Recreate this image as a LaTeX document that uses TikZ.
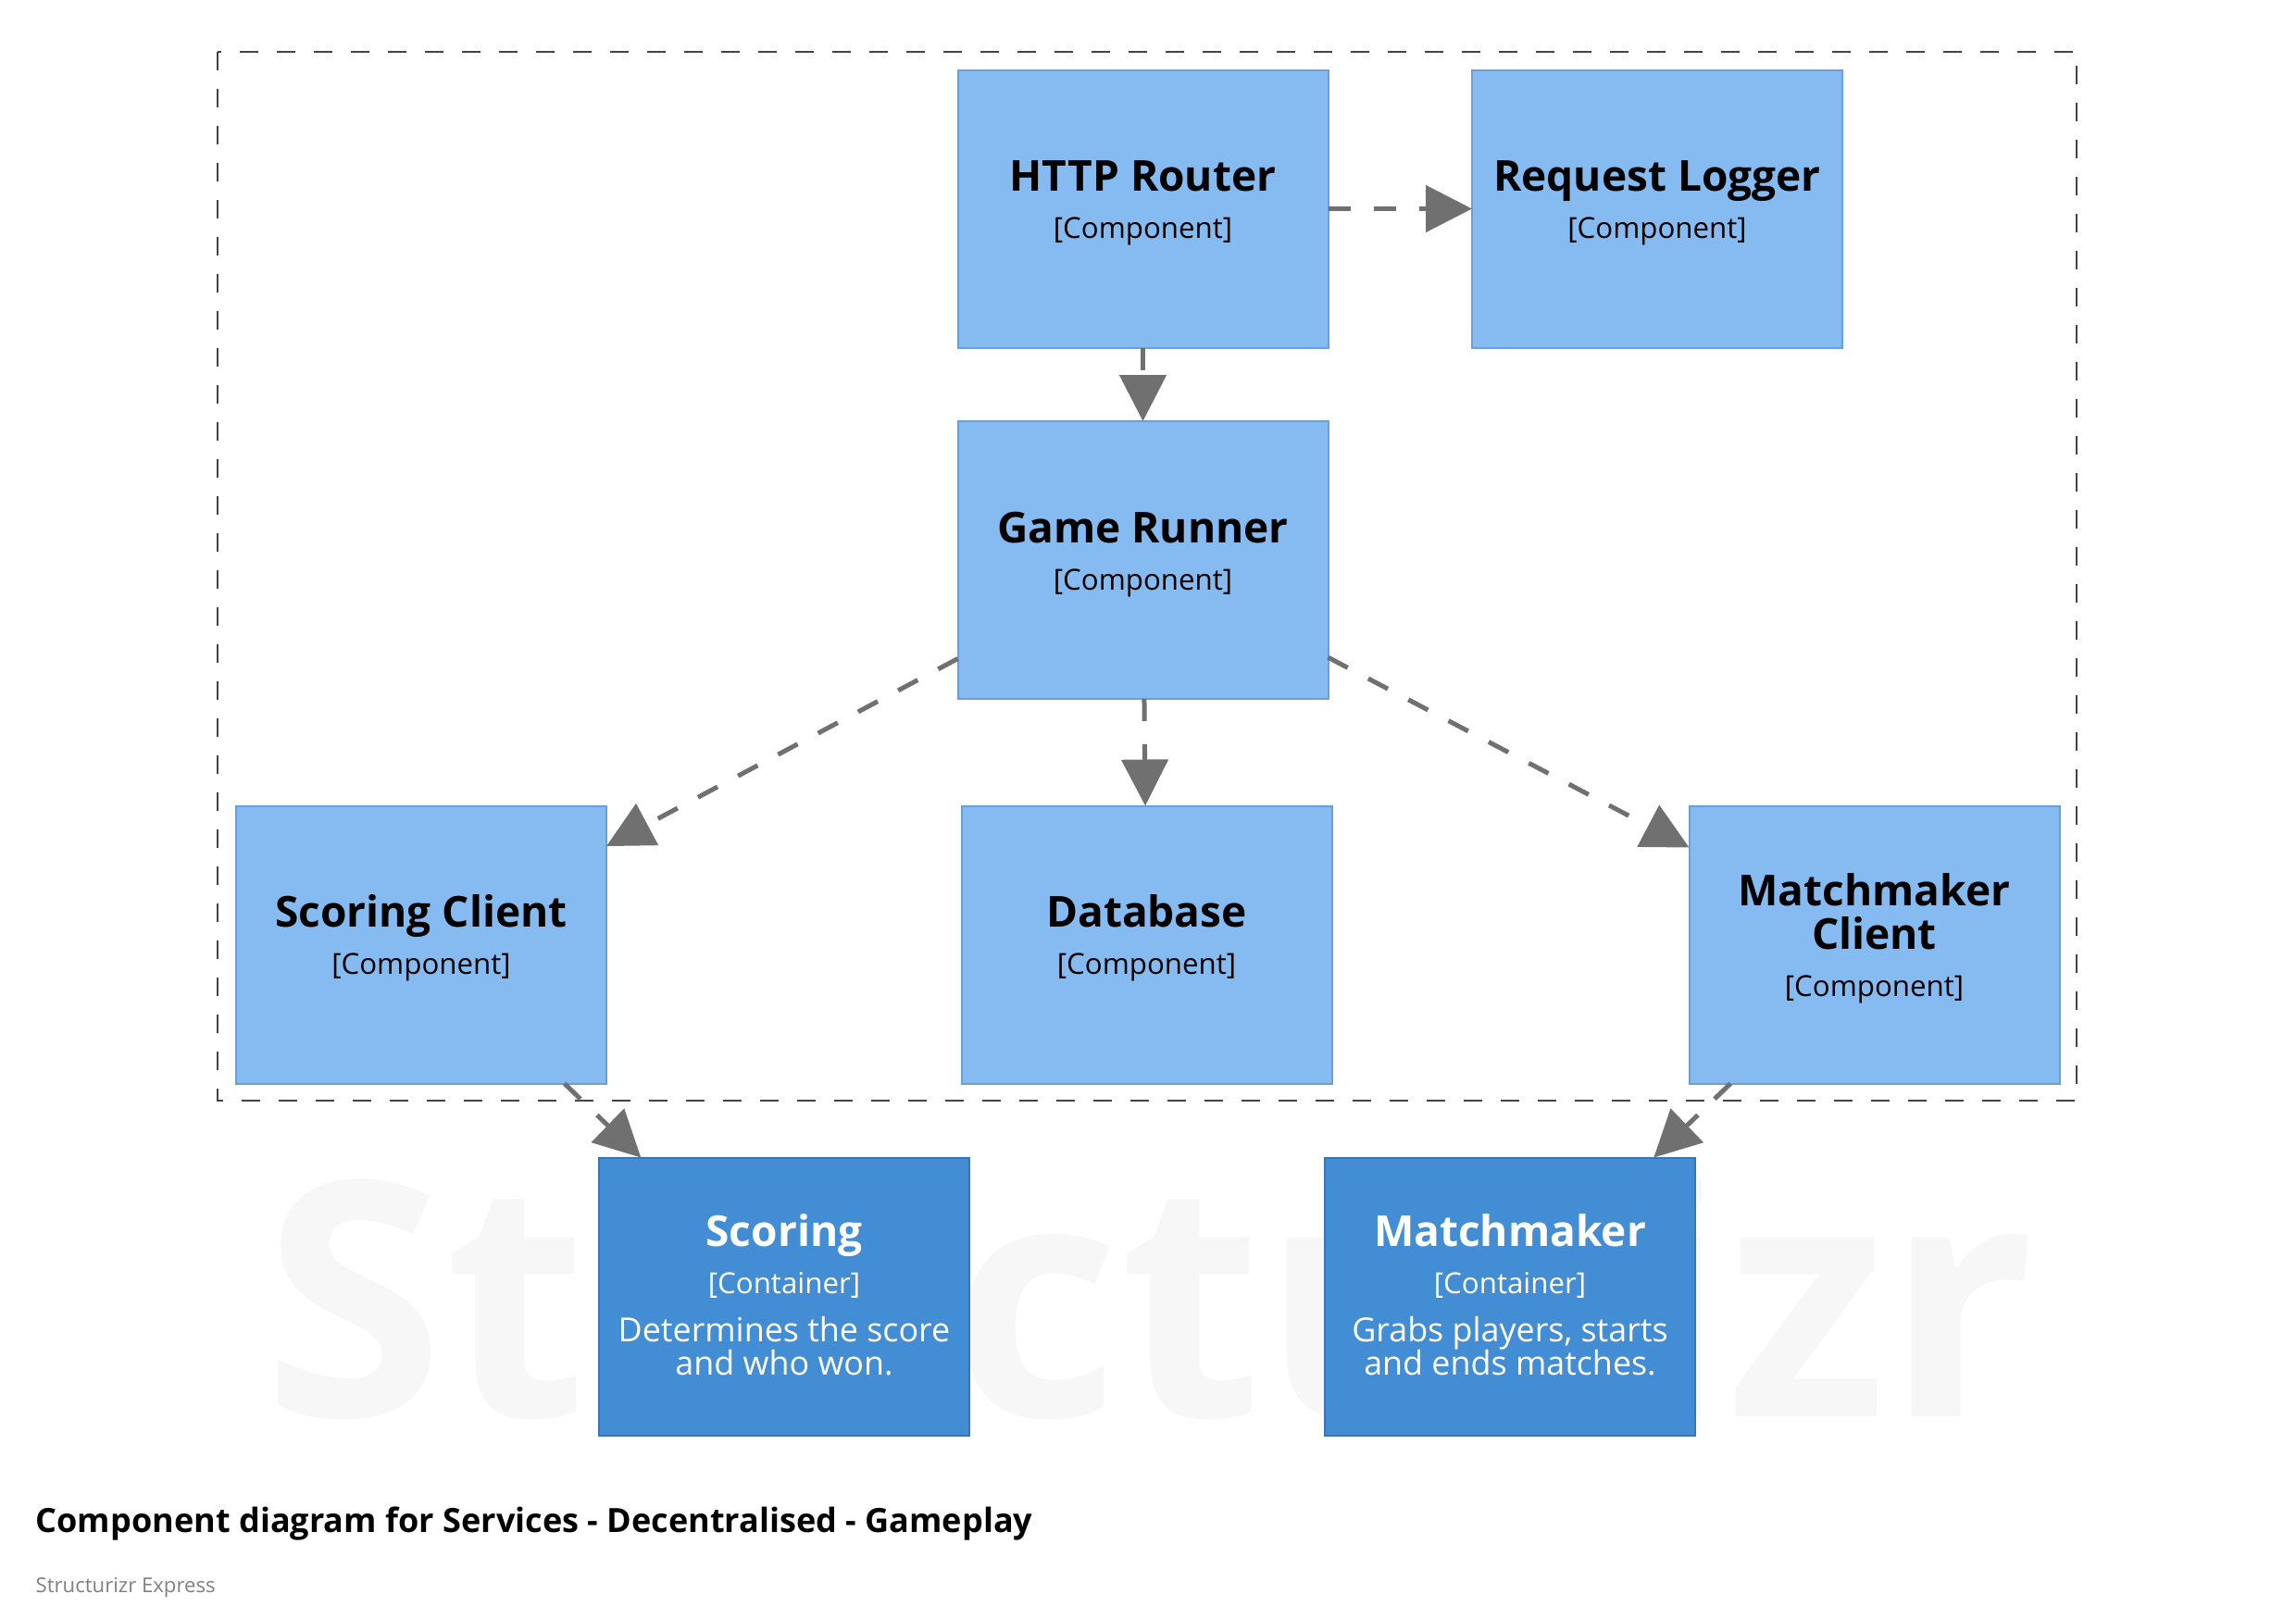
\documentclass[tikz,border=0pt]{standalone}
\usepackage{fontspec}
\setmainfont{Open Sans}
\usepackage{tikz}
\usetikzlibrary{arrows.meta, positioning}

\definecolor{compfill}{HTML}{85BBF0}
\definecolor{compline}{HTML}{6C9FDA}
\definecolor{contfill}{HTML}{438DD5}
\definecolor{contline}{HTML}{3676BC}
\definecolor{relgray}{HTML}{707070}
\definecolor{bndgray}{HTML}{444444}
\definecolor{wmgray}{HTML}{F7F7F7}

\tikzset{
  comp/.style={draw=compline, fill=compfill, line width=0.02cm,
    minimum width=4cm, minimum height=3cm, inner sep=0pt, outer sep=0pt},
  cont/.style={comp, draw=contline, fill=contfill},
  nm/.style={font=\fontsize{13.1pt}{15pt}\selectfont\bfseries, anchor=base, inner sep=0pt},
  meta/.style={font=\fontsize{8.9pt}{10pt}\selectfont, anchor=base, inner sep=0pt},
  desc/.style={font=\fontsize{10.2pt}{11pt}\selectfont, anchor=base, inner sep=0pt, text=white},
  rel/.style={draw=relgray, line width=0.05cm, dash pattern=on 0.24cm off 0.25cm,
    -{Triangle[length=0.5cm, width=0.5cm]}},
}

\begin{document}
\begin{tikzpicture}
\useasboundingbox (0,0) rectangle (24.80,-17.48);

% watermark
\node[font=\fontsize{100.8pt}{101pt}\selectfont\bfseries, text=wmgray, anchor=base, inner sep=0pt]
  (wm) at (12.42,-15.30) {Structurizr};

% boundary
\draw[bndgray, line width=0.02cm, dash pattern=on 0.2cm off 0.2cm]
  (2.345,-0.555) rectangle (22.43,-11.89);

% components
\node[comp] (router) at (12.345,-2.255) {};
\node[comp] (logger) at (17.90,-2.255) {};
\node[comp] (runner) at (12.345,-6.05) {};
\node[comp] (scoringclient) at (4.55,-10.205) {};
\node[comp] (database) at (12.385,-10.205) {};
\node[comp] (mmclient) at (20.245,-10.205) {};

% containers
\node[cont] (scoring) at (8.47,-14.005) {};
\node[cont] (matchmaker) at (16.31,-14.005) {};

% labels
\node[nm] (router-nm) at ([yshift=-1.31cm]router.north) {HTTP Router};
\node[meta] (router-mt) at ([yshift=-1.82cm]router.north) {[Component]};
\node[nm] (logger-nm) at ([yshift=-1.31cm]logger.north) {Request Logger};
\node[meta] (logger-mt) at ([yshift=-1.82cm]logger.north) {[Component]};
\node[nm] (runner-nm) at ([yshift=-1.31cm]runner.north) {Game Runner};
\node[meta] (runner-mt) at ([yshift=-1.82cm]runner.north) {[Component]};
\node[nm] (scoringclient-nm) at ([yshift=-1.31cm]scoringclient.north) {Scoring Client};
\node[meta] (scoringclient-mt) at ([yshift=-1.82cm]scoringclient.north) {[Component]};
\node[nm] (database-nm) at ([yshift=-1.31cm]database.north) {Database};
\node[meta] (database-mt) at ([yshift=-1.82cm]database.north) {[Component]};
\node[nm] (mmclient-nm) at ([yshift=-1.08cm]mmclient.north) {Matchmaker};
\node[nm] (mmclient-nm2) at ([yshift=-1.55cm]mmclient.north) {Client};
\node[meta] (mmclient-mt) at ([yshift=-2.06cm]mmclient.north) {[Component]};

\node[nm, text=white] (scoring-nm) at ([yshift=-0.96cm]scoring.north) {Scoring};
\node[meta, text=white] (scoring-mt) at ([yshift=-1.47cm]scoring.north) {[Container]};
\node[desc] (scoring-d1) at ([yshift=-1.99cm]scoring.north) {Determines the score};
\node[desc] (scoring-d2) at ([yshift=-2.35cm]scoring.north) {and who won.};
\node[nm, text=white] (matchmaker-nm) at ([yshift=-0.96cm]matchmaker.north) {Matchmaker};
\node[meta, text=white] (matchmaker-mt) at ([yshift=-1.47cm]matchmaker.north) {[Container]};
\node[desc] (matchmaker-d1) at ([yshift=-1.99cm]matchmaker.north) {Grabs players, starts};
\node[desc] (matchmaker-d2) at ([yshift=-2.35cm]matchmaker.north) {and ends matches.};

% relationships
\draw[rel] (router) -- (logger);
\draw[rel] (router) -- (runner);
\draw[rel] (runner) -- (scoringclient);
\draw[rel] (runner) -- (database);
\draw[rel] (runner) -- (mmclient);
\draw[rel] (scoringclient) -- (scoring);
\draw[rel] (mmclient) -- (matchmaker);

% title
\node[font=\fontsize{10.26pt}{12pt}\selectfont\bfseries, anchor=base west, inner sep=0pt]
  (title) at (0.38,-16.55) {Component diagram for Services - Decentralised - Gameplay};
\node[font=\fontsize{6.3pt}{7pt}\selectfont, text=gray, anchor=base west, inner sep=0pt]
  (sub) at (0.38,-17.20) {Structurizr Express};
\end{tikzpicture}
\end{document}
